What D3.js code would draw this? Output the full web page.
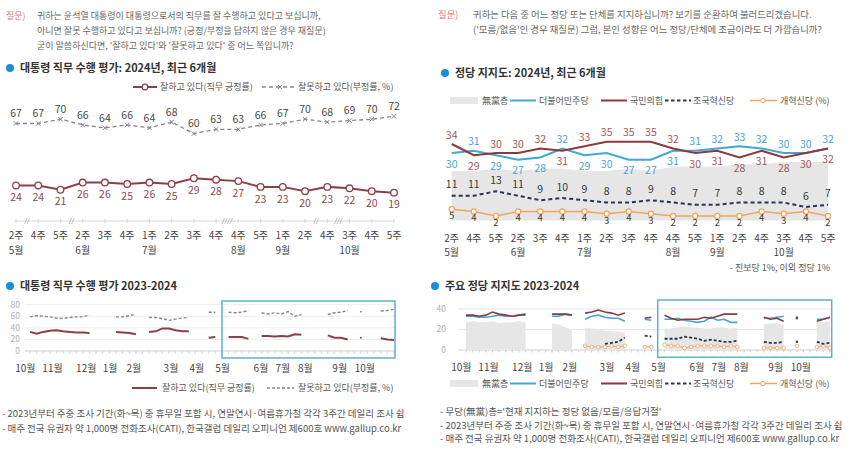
<!DOCTYPE html>
<html><head><meta charset="utf-8">
<script src="https://cdn.jsdelivr.net/npm/d3@7"></script>
<style>
body{margin:0;background:#fff;}
svg{display:block;font-family:"Noto Sans CJK KR","Noto Sans",sans-serif;}
</style></head><body><svg id="c" width="850" height="457"></svg>
<script>
const _ = null;
// ---------- 2024 recent 6 months ----------
const weekLabels = ["2주","4주","5주","2주","3주","4주","1주","2주","3주","4주","4주","5주","1주","2주","4주","3주","4주","5주"];
const monthNames6 = ["5월","6월","7월","8월","9월","10월"];
const monthIdx6 = [0,3,6,10,12,15];
const approve6 = [24,24,21,26,26,25,26,25,29,28,27,23,23,20,23,22,20,19];
const disapprove6 = [67,67,70,66,64,66,64,68,60,63,63,66,67,70,68,69,70,72];
const minjoo6 = [30,31,29,27,28,32,29,30,27,27,31,31,32,33,32,30,30,32];
const ppp6 = [34,29,30,30,32,31,33,35,35,35,32,30,31,28,31,28,30,32];
const rebuild6 = [11,11,13,11,9,10,9,8,8,9,8,7,7,8,8,8,6,7];
const reform6 = [5,4,2,4,4,4,4,3,4,3,2,2,2,2,4,3,4,2];
const indep6 = [22,22,23,22,23,23,22,22,23,22,24,24,24,25,25,26,26,26];
// axis breaks (after index, number of slashes)
const breakAfter = [0,2,9,13,14];
const breakCount = [2,2,4,2,3];

// ---------- 2023-2024 weekly (Oct 2023 2nd week .. Oct 2024 5th week) ----------
const monthNamesLT = ["10월","11월","12월","1월","2월","3월","4월","5월","6월","7월","8월","9월","10월"];
const monthPosLT = [-0.7,3.4,8.5,12.1,15.7,21.3,25.2,29.1,34.9,38.2,41.6,46.8,50.6];
const approveLT = [33,30,33,35,36,34,33,32,32,31, _,_,_, 33,32,31,29, _, 33,34,39,39,36,34,34, _,_, 23,24, _, 24,24,24,21, _, 26,26,25,26,25,29,28, _,_,_, 27,23,23,20, _, 23, _,_, 22,20,19];
const disapproveLT = [59,61,60,59,57,56,58,59,59,62, _,_,_, 59,59,61,63, _, 58,58,56,53,55,57,58, _,_, 67,67, _, 67,66,67,70, _, 66,64,66,64,68,60,63, _,_,_, 63,66,67,70, _, 68, _,_, 69,70,72];
const minjooLT = [33,33,32,32,33,34,33,33,34,34, _,_,_, 33,33,35,34, _, 30,33,34,32,31,31,28, _,_, 30,29, _, 30,30,31,29,28,27,28,32,29,30,27,27, _,_,_, 31,31,32,33, _, 32, _,_, 30,30,32];
const pppLT = [34,34,33,34,37,35,34,33,34,35, _,_,_, 35,35,35,34, _, 36,37,39,37,36,34,36, _,_, 31,32, _, 34,31,29,30,30,30,32,31,33,35,35,35, _,_,_, 32,30,31,28, _, 31, _,_, 28,30,32];
const rebuildLT = [_,_,_,_,_,_,_,_,_,_, _,_,_, _,_,_,_, _, _,_,_,6,7,8,12, _,_, 14,13, _, 11,11,11,13,12,11,9,10,9,8,8,9, _,_,_, 8,7,7,8, _, 8, _,_, 8,6,7];
const reformLT = [_,_,_,_,_,_,_,_,_,_, _,_,_, _,_,_,_, _, 4,3,3,3,4,3,4, _,_, 3,3, _, 5,4,4,2,3,4,4,4,4,3,4,3, _,_,_, 2,2,2,2, _, 4, _,_, 3,4,2];
const indepLT = [27,28,27,27,28,26,27,27,28,27, _,_,_, 26,25,22,20, _, 22,21,20,19,18,18,17, _,_, _,_, _, 21,21,22,23,22,22,21,21,22,22,21,22, _,_,_, 25,26,26,25, _, _, _,_, 27,27,28];
const ticksLT = [0,20,40,60,80];
const ticksLTR = [0,20,40];

// ---------- texts ----------
const qLeft = ["귀하는 윤석열 대통령이 대통령으로서의 직무를 잘 수행하고 있다고 보십니까,",
  "아니면 잘못 수행하고 있다고 보십니까? (긍정/부정을 답하지 않은 경우 재질문)",
  "굳이 말씀하신다면, '잘하고 있다'와 '잘못하고 있다' 중 어느 쪽입니까?"];
const qRight = ["귀하는 다음 중 어느 정당 또는 단체를 지지하십니까? 보기를 순환하여 불러드리겠습니다.",
  "('모름/없음'인 경우 재질문) 그럼, 본인 성향은 어느 정당/단체에 조금이라도 더 가깝습니까?"];
const notesLeft = ["- 2023년부터 주중 조사 기간(화~목) 중 휴무일 포함 시, 연말연시·여름휴가철 각각 3주간 데일리 조사 쉼",
  "- 매주 전국 유권자 약 1,000명 전화조사(CATI), 한국갤럽 데일리 오피니언 제600호 www.gallup.co.kr"];
const notesRight = ["- 무당(無黨)층='현재 지지하는 정당 없음/모름/응답거절'",
  "- 2023년부터 주중 조사 기간(화~목) 중 휴무일 포함 시, 연말연시·여름휴가철 각각 3주간 데일리 조사 쉼",
  "- 매주 전국 유권자 약 1,000명 전화조사(CATI), 한국갤럽 데일리 오피니언 제600호 www.gallup.co.kr"];

// ---------- styles ----------
const C = {
  approve:"#8e3f44", approveTxt:"#8a4a4c", disapprove:"#8c8290", txt:"#555", dark:"#3a3a3a",
  blue:"#43a7cf", blueTxt:"#4aa6cc", red:"#8b3a40", redTxt:"#9d5a5c", navy:"#2c3552", orange:"#f1a45e",
  gray:"#e6e6e6", box:"#5ab3c8", dot:"#1a8fd8", q:"#e07a7a", axis:"#d6d6d6"
};

const svg = d3.select("#c");
svg.append("rect").attr("width",850).attr("height",457).attr("fill","#fff");

function T(x,y,s,o={}){
  return svg.append("text").attr("x",x).attr("y",y).attr("dy","0.35em")
    .attr("font-size",o.size||9).attr("fill",o.fill||C.txt).attr("font-weight",o.weight||400)
    .attr("text-anchor",o.anchor||"start").text(s);
}
function lineGen(x,y){ return d3.line().defined(d=>d!=null).x((d,i)=>x(i)).y(d=>y(d)); }
function isolated(data){ return data.map((d,i)=>(d!=null && data[i-1]==null && data[i+1]==null)?i:-1).filter(i=>i>=0); }
function title(x,y,s){
  svg.append("circle").attr("cx",x).attr("cy",y).attr("r",4).attr("fill",C.dot);
  T(x+10,y,s,{size:11,weight:700,fill:"#333"});
}

// ---------- headers ----------
T(6,16,"질문)",{fill:C.q});
qLeft.forEach((s,i)=>T(37,16+i*15,s,{fill:"#666"}));
T(438,15,"질문)",{fill:C.q, size:9.4});
qRight.forEach((s,i)=>T(473,15+i*14.5,s,{fill:"#666", size:9.4}));

// ================= LEFT TOP =================
title(10,68,"대통령 직무 수행 평가: 2024년, 최근 6개월");
{
  svg.append("line").attr("x1",133).attr("x2",157).attr("y1",87).attr("y2",87).attr("stroke",C.approve).attr("stroke-width",2);
  svg.append("circle").attr("cx",145).attr("cy",87).attr("r",2.8).attr("fill","#fff").attr("stroke",C.approve).attr("stroke-width",1.2);
  T(160,87,"잘하고 있다(직무 긍정률)");
  svg.append("line").attr("x1",262).attr("x2",294).attr("y1",87).attr("y2",87).attr("stroke",C.disapprove).attr("stroke-width",1.3).attr("stroke-dasharray","4,3");
  svg.append("path").attr("d","M-2.2,-2.2L2.2,2.2M-2.2,2.2L2.2,-2.2").attr("transform","translate(280,87)").attr("stroke",C.disapprove).attr("stroke-width",1);
  T(298,87,"잘못하고 있다(부정률, %)");

  const x = d3.scalePoint().domain(d3.range(18)).range([16,394]);
  const y = d3.scaleLinear().domain([0,100]).range([220,76]);
  svg.append("line").attr("x1",16).attr("x2",394).attr("y1",221).attr("y2",221).attr("stroke",C.axis);
  d3.range(18).forEach(i=>svg.append("line").attr("x1",x(i)).attr("x2",x(i)).attr("y1",219).attr("y2",223).attr("stroke",C.axis));
  breakAfter.forEach((a,k)=>{
    const cx=(x(a)+x(a+1))/2, n=breakCount[k];
    for(let j=0;j<n;j++){ const ox=cx+(j-(n-1)/2)*2.6;
      svg.append("line").attr("x1",ox-1.3).attr("x2",ox+1.3).attr("y1",224).attr("y2",218).attr("stroke","#bbb").attr("stroke-width",0.9);}
  });
  svg.append("path").datum(disapprove6).attr("d",lineGen(x,y)).attr("fill","none").attr("stroke",C.disapprove).attr("stroke-width",1.3).attr("stroke-dasharray","4,3");
  disapprove6.forEach((d,i)=>{
    svg.append("path").attr("d","M-2.2,-2.2L2.2,2.2M-2.2,2.2L2.2,-2.2").attr("transform",`translate(${x(i)},${y(d)})`).attr("stroke",C.disapprove).attr("stroke-width",1);
    T(x(i),y(d)-10,d,{size:10.5,anchor:"middle",fill:"#4a4a4a"});
  });
  svg.append("path").datum(approve6).attr("d",lineGen(x,y)).attr("fill","none").attr("stroke",C.approve).attr("stroke-width",2);
  approve6.forEach((d,i)=>{
    svg.append("circle").attr("cx",x(i)).attr("cy",y(d)).attr("r",3.3).attr("fill","#fff").attr("stroke",C.approve).attr("stroke-width",1.3);
    T(x(i),y(d)+12,d,{size:10.5,anchor:"middle",fill:C.approveTxt});
  });
  weekLabels.forEach((s,i)=>T(x(i),235,s,{size:10,anchor:"middle",fill:"#444"}));
  monthNames6.forEach((s,k)=>T(x(monthIdx6[k]),250,s,{size:10,anchor:"middle",fill:"#444"}));
}

// ================= LEFT BOTTOM =================
title(10,286,"대통령 직무 수행 평가 2023-2024");
{
  const x = d3.scaleLinear().domain([0,55]).range([30,394]);
  const y = d3.scaleLinear().domain([0,80]).range([351,304.7]);
  ticksLT.forEach(t=>{
    svg.append("line").attr("x1",25).attr("x2",395).attr("y1",y(t)).attr("y2",y(t)).attr("stroke",t===0?"#cfcfcf":"#ececec");
    T(20,y(t),t,{size:8.5,anchor:"end",fill:"#b0b0b0"});
  });
  d3.range(56).forEach(i=>svg.append("line").attr("x1",x(i)).attr("x2",x(i)).attr("y1",y(0)).attr("y2",y(0)+2.5).attr("stroke","#cfcfcf"));
  svg.append("rect").attr("x",222).attr("y",301).attr("width",173).attr("height",57).attr("fill","none").attr("stroke",C.box).attr("stroke-width",1.5);
  svg.append("path").datum(disapproveLT).attr("d",lineGen(x,y)).attr("fill","none").attr("stroke",C.disapprove).attr("stroke-width",1.4).attr("stroke-dasharray","3,2");
  svg.append("path").datum(approveLT).attr("d",lineGen(x,y)).attr("fill","none").attr("stroke",C.approve).attr("stroke-width",2);
  isolated(disapproveLT).forEach(i=>svg.append("circle").attr("cx",x(i)).attr("cy",y(disapproveLT[i])).attr("r",0.9).attr("fill",C.disapprove));
  isolated(approveLT).forEach(i=>svg.append("circle").attr("cx",x(i)).attr("cy",y(approveLT[i])).attr("r",1).attr("fill",C.approve));
  monthNamesLT.forEach((s,k)=>T(x(monthPosLT[k]),368,s,{size:10,anchor:"middle",fill:"#444"}));
  svg.append("line").attr("x1",132).attr("x2",157).attr("y1",388).attr("y2",388).attr("stroke",C.approve).attr("stroke-width",2);
  T(162,388,"잘하고 있다(직무 긍정률)");
  svg.append("line").attr("x1",267).attr("x2",294).attr("y1",388).attr("y2",388).attr("stroke",C.disapprove).attr("stroke-width",1.4).attr("stroke-dasharray","3,2");
  T(298,388,"잘못하고 있다(부정률, %)");
}
notesLeft.forEach((s,i)=>T(2,414+i*14.5,s,{size:9.5,fill:"#555"}));

// ---------- right legend ----------
function rightLegend(yy){
  svg.append("rect").attr("x",450).attr("y",yy-3.5).attr("width",28).attr("height",7).attr("fill",C.gray);
  T(482,yy,"無黨층");
  svg.append("line").attr("x1",510).attr("x2",536).attr("y1",yy).attr("y2",yy).attr("stroke",C.blue).attr("stroke-width",2);
  T(539,yy,"더불어민주당");
  svg.append("line").attr("x1",601).attr("x2",627).attr("y1",yy).attr("y2",yy).attr("stroke",C.red).attr("stroke-width",2);
  T(630,yy,"국민의힘");
  svg.append("line").attr("x1",665).attr("x2",691).attr("y1",yy).attr("y2",yy).attr("stroke",C.navy).attr("stroke-width",1.8).attr("stroke-dasharray","3.5,2.5");
  T(693,yy,"조국혁신당");
  svg.append("line").attr("x1",750).attr("x2",777).attr("y1",yy).attr("y2",yy).attr("stroke",C.orange).attr("stroke-width",1.5);
  svg.append("circle").attr("cx",763).attr("cy",yy).attr("r",2.2).attr("fill","#fff").attr("stroke",C.orange);
  T(780,yy,"개혁신당 (%)");
}

// ================= RIGHT TOP =================
title(445,73,"정당 지지도: 2024년, 최근 6개월");
rightLegend(100.5);
{
  const x = d3.scalePoint().domain(d3.range(18)).range([451.7,828]);
  const y = d3.scaleLinear().domain([0,40]).range([220.5,130.5]);
  svg.append("path").datum(indep6).attr("d",d3.area().x((d,i)=>x(i)).y0(y(0)).y1(d=>y(d))).attr("fill",C.gray);
  svg.append("path").datum(reform6).attr("d",lineGen(x,y)).attr("fill","none").attr("stroke",C.orange).attr("stroke-width",1.6);
  reform6.forEach((d,i)=>{
    svg.append("circle").attr("cx",x(i)).attr("cy",y(d)).attr("r",2.6).attr("fill","#fff").attr("stroke",C.orange).attr("stroke-width",1.2);
    T(x(i),y(d)+6.5,d,{size:9.5,anchor:"middle",fill:C.dark});
  });
  svg.append("path").datum(rebuild6).attr("d",lineGen(x,y)).attr("fill","none").attr("stroke",C.navy).attr("stroke-width",2).attr("stroke-dasharray","4,3");
  rebuild6.forEach((d,i)=>T(x(i),y(d)-11,d,{size:10.5,anchor:"middle",fill:C.dark}));
  svg.append("path").datum(minjoo6).attr("d",lineGen(x,y)).attr("fill","none").attr("stroke",C.blue).attr("stroke-width",2);
  svg.append("path").datum(ppp6).attr("d",lineGen(x,y)).attr("fill","none").attr("stroke",C.red).attr("stroke-width",2);
  minjoo6.forEach((b,i)=>{
    const r = ppp6[i], up = b>=r;
    T(x(i),y(b)+(up?-9:11),b,{size:10.5,anchor:"middle",fill:C.blueTxt});
    T(x(i),y(r)+(up?11:-9),r,{size:10.5,anchor:"middle",fill:C.redTxt});
  });
  weekLabels.forEach((s,i)=>T(x(i),238,s,{size:10,anchor:"middle",fill:"#444"}));
  monthNames6.forEach((s,k)=>T(x(monthIdx6[k]),252,s,{size:10,anchor:"middle",fill:"#444"}));
  T(830,268,"- 진보당 1%, 이외 정당 1%",{anchor:"end"});
}

// ================= RIGHT BOTTOM =================
title(435,286,"주요 정당 지지도 2023-2024");
{
  const x = d3.scaleLinear().domain([0,55]).range([466,830]);
  const y = d3.scaleLinear().domain([0,40]).range([350,309]);
  ticksLTR.forEach(t=>{
    svg.append("line").attr("x1",458).attr("x2",831).attr("y1",y(t)).attr("y2",y(t)).attr("stroke",t===0?"#cfcfcf":"#e4e4e4");
    T(446,y(t),t,{size:8.5,anchor:"end",fill:"#b0b0b0"});
  });
  d3.range(56).forEach(i=>svg.append("line").attr("x1",x(i)).attr("x2",x(i)).attr("y1",y(0)).attr("y2",y(0)+2.5).attr("stroke","#cfcfcf"));
  svg.append("path").datum(indepLT).attr("d",d3.area().defined(d=>d!=null).x((d,i)=>x(i)).y0(y(0)).y1(d=>y(d))).attr("fill",C.gray);
  svg.append("path").datum(reformLT).attr("d",lineGen(x,y)).attr("fill","none").attr("stroke",C.orange).attr("stroke-width",1);
  reformLT.forEach((d,i)=>{ if(d!=null) svg.append("circle").attr("cx",x(i)).attr("cy",y(d)).attr("r",1.8).attr("fill","#fff").attr("stroke",C.orange).attr("stroke-width",0.8); });
  svg.append("path").datum(rebuildLT).attr("d",lineGen(x,y)).attr("fill","none").attr("stroke",C.navy).attr("stroke-width",1.8).attr("stroke-dasharray","3,2");
  svg.append("path").datum(minjooLT).attr("d",lineGen(x,y)).attr("fill","none").attr("stroke",C.blue).attr("stroke-width",1.6);
  svg.append("path").datum(pppLT).attr("d",lineGen(x,y)).attr("fill","none").attr("stroke",C.red).attr("stroke-width",1.6);
  [[rebuildLT,C.navy],[minjooLT,C.blue],[pppLT,C.red]].forEach(([data,col])=>
    isolated(data).forEach(i=>svg.append("circle").attr("cx",x(i)).attr("cy",y(data[i])).attr("r",1.2).attr("fill",col)));
  svg.append("rect").attr("x",657.7).attr("y",300).attr("width",174).attr("height",57.3).attr("fill","none").attr("stroke",C.box).attr("stroke-width",1.5);
  monthNamesLT.forEach((s,k)=>T(x(monthPosLT[k]),367,s,{size:10,anchor:"middle",fill:"#444"}));
}
rightLegend(383.5);
notesRight.forEach((s,i)=>T(440,412+i*13.5,s,{size:9.5,fill:"#555"}));
</script></body></html>
